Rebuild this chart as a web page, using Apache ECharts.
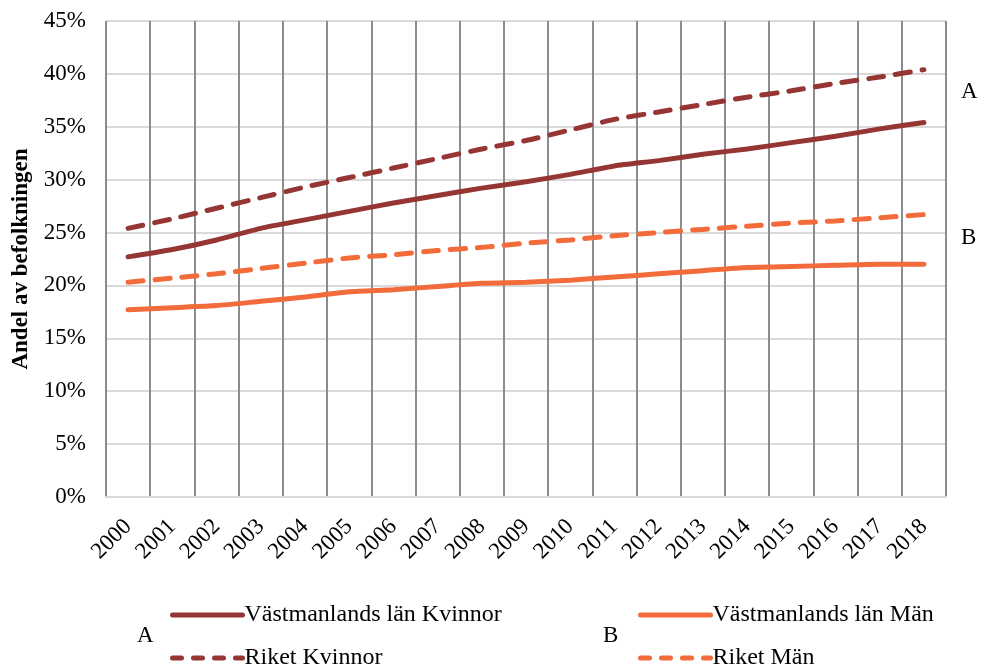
<!DOCTYPE html>
<html>
<head>
<meta charset="utf-8">
<script src="https://cdn.jsdelivr.net/npm/echarts@6/dist/echarts.min.js"></script>
<style>
  html, body { margin: 0; padding: 0; background: #fff; }
  #chart { width: 981px; height: 668px; }
</style>
</head>
<body>
<div id="chart"></div>
<script>
var years = ['2000', '2001', '2002', '2003', '2004', '2005', '2006', '2007', '2008', '2009',
  '2010', '2011', '2012', '2013', '2014', '2015', '2016', '2017', '2018'];
var vastKvinnor = [22.7, 23.4, 24.3, 25.4, 26.2, 27.0, 27.8, 28.5, 29.2, 29.8, 30.5, 31.3, 31.8, 32.4, 32.9, 33.5, 34.1, 34.8, 35.4];
var riketKvinnor = [25.4, 26.3, 27.3, 28.3, 29.3, 30.2, 31.1, 32.0, 32.9, 33.7, 34.7, 35.7, 36.4, 37.1, 37.8, 38.4, 39.1, 39.7, 40.4];
var vastMan = [17.7, 17.9, 18.1, 18.5, 18.9, 19.4, 19.6, 19.9, 20.2, 20.3, 20.5, 20.8, 21.1, 21.4, 21.7, 21.8, 21.9, 22.0, 22.0];
var riketMan = [20.3, 20.7, 21.1, 21.6, 22.1, 22.6, 22.9, 23.3, 23.6, 24.0, 24.3, 24.7, 25.0, 25.3, 25.6, 25.9, 26.1, 26.4, 26.7];

var darkRed = '#963634';
var orange = '#f26b3a';
var serif = '"Liberation Serif", "DejaVu Serif", serif';

function makeLine(name, data, color, dashed) {
  return {
    name: name,
    type: 'line',
    data: data,
    symbol: 'none',
    smooth: 0.2,
    lineStyle: {
      color: color,
      width: 5,
      type: dashed ? [15, 12] : 'solid',
      cap: 'round'
    },
    itemStyle: { color: color }
  };
}

// horizontal legends narrow enough that each item wraps onto its own row
var legendBase = {
  orient: 'horizontal',
  top: 603,
  padding: 0,
  itemWidth: 70, itemHeight: 22, itemGap: 19,
  itemStyle: { opacity: 0 },
  lineStyle: { width: 5, cap: 'round' },
  textStyle: { fontFamily: serif, fontSize: 24, lineHeight: 22, color: '#000', padding: [0, 0, 0, -3] }
};

var chart = echarts.init(document.getElementById('chart'));
chart.setOption({
  animation: false,
  grid: { left: 106, right: 35, top: 21, bottom: 171, outerBoundsMode: 'none' },
  xAxis: {
    type: 'category',
    data: years,
    boundaryGap: true,
    axisLine: { lineStyle: { color: '#d9d9d9', width: 2 } },
    axisTick: { show: false },
    splitLine: { show: true, lineStyle: { color: '#8c8c8c', width: 2 } },
    axisLabel: {
      rotate: 45, margin: 26, interval: 0,
      color: '#000', fontFamily: serif, fontSize: 23
    }
  },
  yAxis: {
    type: 'value',
    min: 0, max: 45, interval: 5,
    name: 'Andel av befolkningen',
    nameLocation: 'middle',
    nameRotate: 90,
    nameGap: 66,
    nameTextStyle: { fontFamily: serif, fontSize: 23, fontWeight: 'bold', color: '#000' },
    axisLine: { show: false },
    axisTick: { show: false },
    splitLine: { lineStyle: { color: '#d9d9d9', width: 2 } },
    axisLabel: {
      formatter: '{value}%', margin: 20,
      color: '#000', fontFamily: serif, fontSize: 23
    }
  },
  legend: [
    Object.assign({}, legendBase, {
      left: 170, width: 340,
      data: [
        { name: 'Västmanlands län Kvinnor' },
        { name: 'Riket Kvinnor', lineStyle: { type: [9, 12] } }
      ]
    }),
    Object.assign({}, legendBase, {
      left: 638, width: 300,
      data: [
        { name: 'Västmanlands län Män' },
        { name: 'Riket Män', lineStyle: { type: [9, 12] } }
      ]
    })
  ],
  graphic: [
    { type: 'text', left: 961, top: 80, style: { text: 'A', font: '23px ' + serif, fill: '#000' } },
    { type: 'text', left: 961, top: 226, style: { text: 'B', font: '23px ' + serif, fill: '#000' } },
    { type: 'text', left: 137, top: 624, style: { text: 'A', font: '23px ' + serif, fill: '#000' } },
    { type: 'text', left: 603, top: 624, style: { text: 'B', font: '23px ' + serif, fill: '#000' } }
  ],
  series: [
    makeLine('Västmanlands län Kvinnor', vastKvinnor, darkRed, false),
    makeLine('Riket Kvinnor', riketKvinnor, darkRed, true),
    makeLine('Västmanlands län Män', vastMan, orange, false),
    makeLine('Riket Män', riketMan, orange, true)
  ]
});
</script>
</body>
</html>
